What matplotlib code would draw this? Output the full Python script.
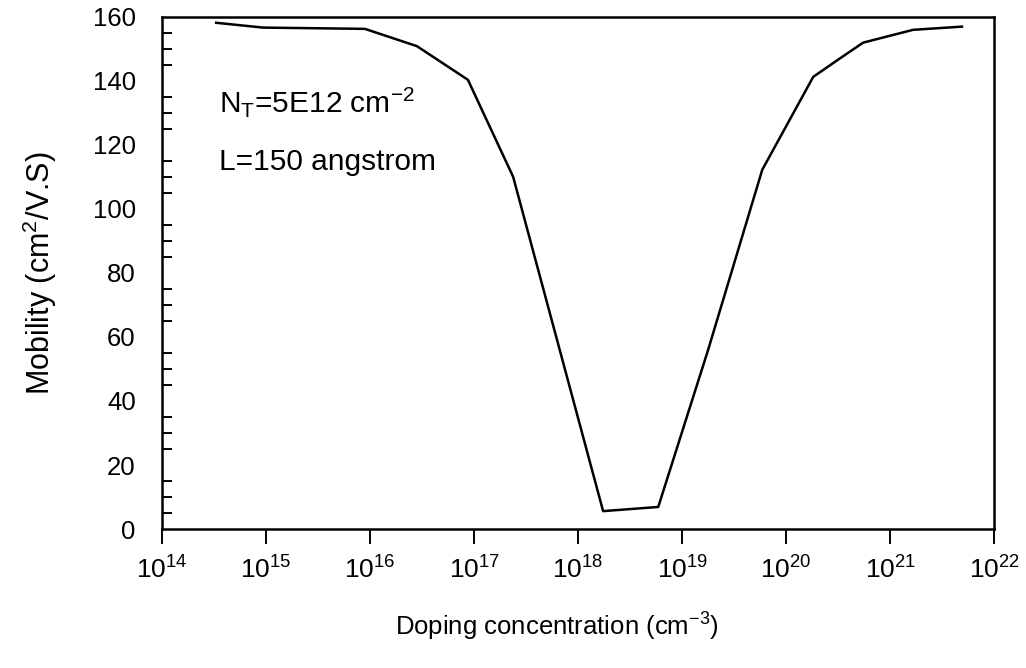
import numpy as np
import matplotlib.pyplot as plt
from matplotlib.ticker import FixedLocator, NullFormatter

plt.rcParams['font.family'] = ['Liberation Sans', 'DejaVu Sans']
plt.rcParams['mathtext.fontset'] = 'custom'
plt.rcParams['mathtext.rm'] = 'Liberation Sans'
plt.rcParams['mathtext.it'] = 'Liberation Sans'

# data (log10 of doping, mobility)
log_doping = [14.52, 14.97, 15.95, 16.45, 16.94, 17.375, 18.24, 18.77, 19.25, 19.77, 20.26, 20.5, 20.74, 21.22, 21.69]
mobility = [158.1, 156.6, 156.2, 150.8, 140.3, 110.0, 5.6, 6.9, 56.0, 112.2, 141.2, 146.6, 151.9, 155.9, 156.9]
doping = [10 ** v for v in log_doping]

fig = plt.figure(figsize=(10.26, 6.68), dpi=100)
ax = fig.add_axes([0.158, 0.208, 0.811, 0.767])

ax.plot(doping, mobility, color='black', lw=1.8)

ax.set_xscale('log')
ax.set_xlim(1e14, 1e22)
ax.set_ylim(0, 160)

# x: decade ticks pointing out
ax.set_xticks([10.0 ** k for k in range(14, 23)])
ax.xaxis.set_minor_locator(FixedLocator([]))
ax.tick_params(axis='x', which='major', direction='out', length=11, width=1.4,
               labelsize=19, pad=9, top=False)

# y: labels every 20, small inward ticks every 5 (none on the labelled values)
ax.set_yticks(np.arange(0, 161, 20))
minor = [v for v in range(5, 160, 5) if v % 20 != 0]
ax.yaxis.set_minor_locator(FixedLocator(minor))
ax.yaxis.set_minor_formatter(NullFormatter())
ax.tick_params(axis='y', which='major', length=0, labelsize=18.5, pad=19)
ax.tick_params(axis='y', which='minor', direction='in', length=7, width=1.4, right=False)

for s in ax.spines.values():
    s.set_linewidth(1.8)

ax.set_xlabel('Doping concentration (cm$^{-3}$)', fontsize=18.5)
ax.xaxis.set_label_coords(0.474, -0.16)
ax.set_ylabel('Mobility (cm$^{2}$/V.S)', fontsize=22, labelpad=24)

ax.text(0.068, 0.813, 'N$_{T}$=5E12 cm$^{-2}$', transform=ax.transAxes, fontsize=21.5)
ax.text(0.068, 0.70, 'L=150 angstrom', transform=ax.transAxes, fontsize=21.5)

fig.savefig('out.png', dpi=100)
